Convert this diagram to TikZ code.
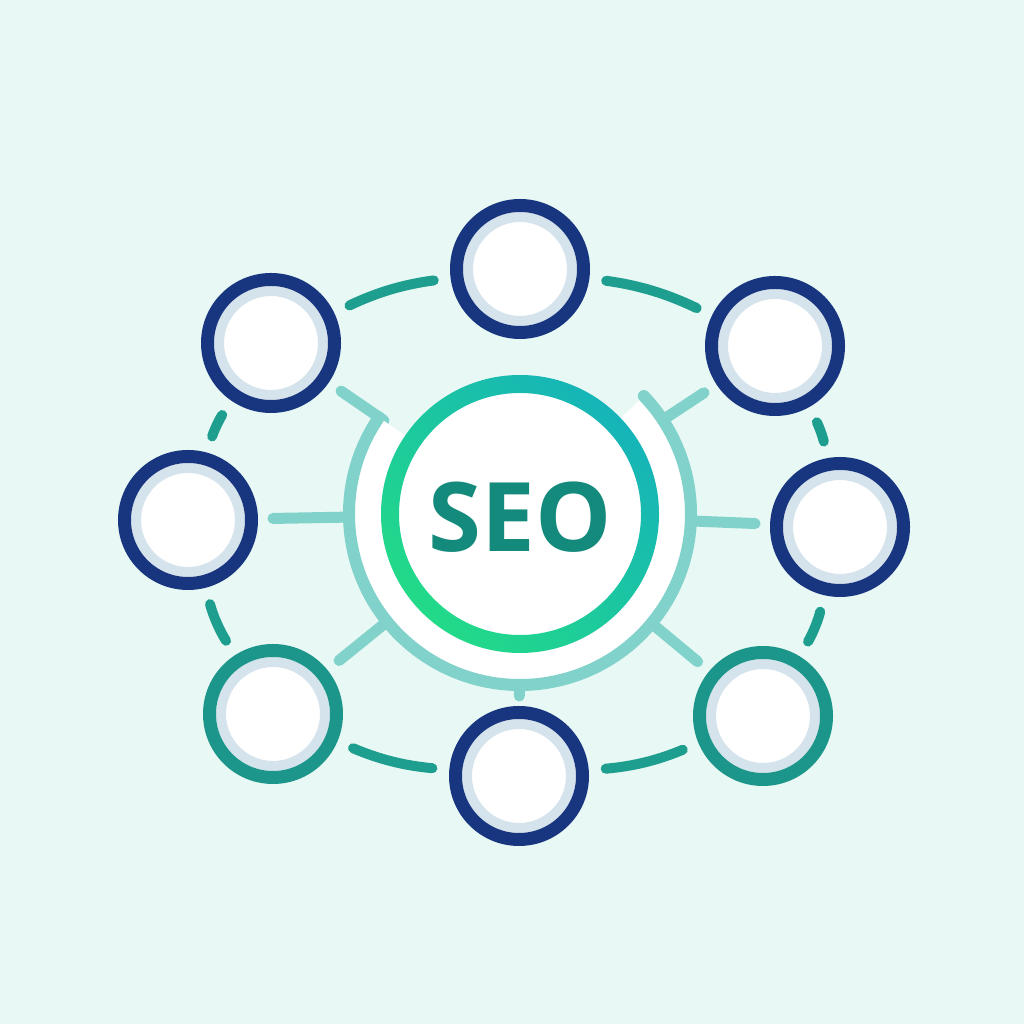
\documentclass[tikz,border=0pt]{standalone}
\usepackage{fontspec}
\setmainfont{Open Sans}
\definecolor{bgc}{HTML}{E8F8F4}
\definecolor{navyc}{HTML}{18357F}
\definecolor{tealring}{HTML}{1C968A}
\definecolor{dashc}{HTML}{1E9E8E}
\definecolor{ringgray}{HTML}{D5E3EC}
\definecolor{spokec}{HTML}{80D2CB}
\definecolor{gbot}{HTML}{22DA88}
\definecolor{gtop}{HTML}{16B4B8}
\definecolor{seotext}{HTML}{138A7B}
\begin{document}
\begin{tikzpicture}[x=1pt,y=1pt,
  ring/.style={circle, inner sep=0pt, minimum size=127pt, line width=13pt, draw=#1, fill=white,
    path picture={\draw[ringgray, line width=10pt] (path picture bounding box.center) circle (52pt);}},
  dashlink/.style={draw=dashc, line width=10pt, line cap=round, shorten <=17pt, shorten >=17pt},
  spoke/.style={draw=spokec, line width=11pt, line cap=round, shorten <=165pt, shorten >=15pt},
  arcline/.style={draw=spokec, line width=12pt, line cap=round}
]
\fill[bgc] (0,0) rectangle (1024,1024);
\useasboundingbox (0,0) rectangle (1024,1024);

\coordinate (hub) at (520,510);

% outer nodes
\node[ring=navyc] (top) at (520,755) {};
\node[ring=navyc] (ul) at (271,681) {};
\node[ring=navyc] (ur) at (775,678) {};
\node[ring=navyc] (l) at (188,504) {};
\node[ring=navyc] (r) at (840,497) {};
\node[ring=tealring] (ll) at (273,310) {};
\node[ring=navyc] (b) at (519,248) {};
\node[ring=tealring] (lr) at (763,308) {};

% dashed links around the ring
\draw[dashlink] (top) to[bend right=9] (ul);
\draw[dashlink] (ul) to[bend right=9] (l);
\draw[dashlink] (l) to[bend right=9] (ll);
\draw[dashlink] (ll) to[bend right=9] (b);
\draw[dashlink] (b) to[bend right=9] (lr);
\draw[dashlink] (lr) to[bend right=9] (r);
\draw[dashlink] (r) to[bend right=9] (ur);
\draw[dashlink] (ur) to[bend right=9] (top);

% spokes
\draw[spoke] (hub) -- (ul);
\draw[spoke] (hub) -- (ur);
\draw[spoke] (hub) -- (l);
\draw[spoke] (hub) -- (r);
\draw[spoke] (hub) -- (ll);
\draw[spoke] (hub) -- (lr);
\draw[spoke, shorten >=10pt] (hub) -- (b);

% hub
\fill[white] ([shift={(145.6:171)}]hub) arc[start angle=145.6, end angle=403.6, radius=171]
  -- ([shift={(43.6:135)}]hub) arc[start angle=43.6, end angle=145.6, radius=135] -- cycle;
\fill[white] (hub) circle (135);
\draw[arcline] ([shift={(145.6:171)}]hub) arc[start angle=145.6, end angle=403.6, radius=171];
\shade[even odd rule, top color=gtop, bottom color=gbot, shading angle=-45] (hub) circle (139) (hub) circle (121);
\node[font=\bfseries\fontsize{96}{96}\selectfont, text=seotext, inner sep=0pt] (seo) at (520,507) {SEO};
\end{tikzpicture}
\end{document}
